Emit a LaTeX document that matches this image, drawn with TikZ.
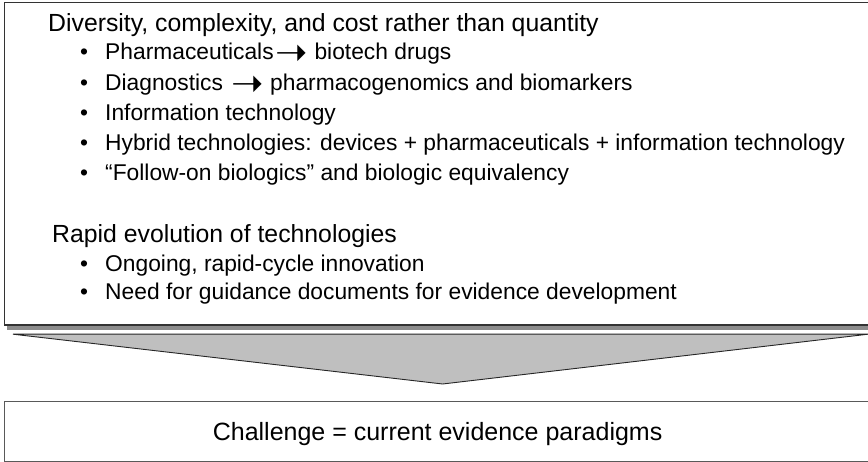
\documentclass[tikz,border=0pt]{standalone}
\usepackage{fontspec}
\usepackage{graphicx}
\setmainfont{Liberation Sans}
\newfontfamily\symfont{DejaVu Sans}
\usetikzlibrary{positioning, calc}

\newcommand{\bulletmark}{\makebox[25pt][l]{\textbullet}}
\newcommand{\yields}{\kern2pt\raisebox{-5.5pt}{\scalebox{1.7}{\symfont ➝}}}

\begin{document}
\begin{tikzpicture}[
    x=1pt, y=-1pt,
    font=\fontsize{25}{28}\selectfont,
    panel/.style={
        rectangle,
        draw=black!80,
        line width=1.2pt,
        fill=white,
        inner sep=0pt,
        anchor=north west
    },
    shadowbox/.style={fill=black!45},
    heading/.style={anchor=base west, inner sep=0pt, font=\fontsize{24.8}{28}\selectfont},
    item/.style={anchor=base west, inner sep=0pt, font=\fontsize{22.8}{26}\selectfont},
    funnel/.style={fill=black!25, draw=black!85, line width=0.9pt, line join=miter}
]
    \useasboundingbox (0,0) rectangle (868,462);

    % --- 1. Upper panel with its shadow ---
    \node[panel, minimum width=866pt, minimum height=322pt] (drivers) at (4,2) {};
    \fill[shadowbox] ($(drivers.south west)+(3,1)$) rectangle ($(drivers.south east)+(3,5)$);
    \draw[draw=black!80, line width=1.2pt] (drivers.south west) -- (drivers.south east);

    % --- 2. First group ---
    \node[heading] (diversity) at (48,32) {Diversity, complexity, and cost rather than quantity};
    \node[item] (pharma) at (80,60) {\bulletmark Pharmaceuticals\yields\ biotech drugs};
    \node[item] (diag) at (80,91) {\bulletmark Diagnostics \yields\ pharmacogenomics and biomarkers};
    \node[item] (infotech) at (80,121) {\bulletmark Information technology};
    \node[item] (hybrid) at (80,151) {\bulletmark Hybrid technologies: devices + pharmaceuticals + information technology};
    \node[item] (followon) at (80,181) {\bulletmark “Follow-on biologics” and biologic equivalency};

    % --- 3. Second group ---
    \node[heading] (rapid) at (52,243) {Rapid evolution of technologies};
    \node[item] (ongoing) at (80,272) {\bulletmark Ongoing, rapid-cycle innovation};
    \node[item] (guidance) at (80,300) {\bulletmark Need for guidance documents for evidence development};

    % --- 4. Lower panel ---
    \node[panel, draw=black!65, minimum width=866pt, minimum height=60pt,
          text depth=0pt] (challenge) at (4,401) {Challenge = current evidence paradigms};

    % --- Funnel ---
    \coordinate (funnelL) at ($(drivers.south west)+(9,9)$);
    \coordinate (funnelR) at ($(drivers.south east)+(-3,9)$);
    \coordinate (apex) at ($(challenge.north)+(5,-17)$);
    \filldraw[funnel] (funnelL) -- (funnelR) -- (apex) -- cycle;
\end{tikzpicture}
\end{document}
